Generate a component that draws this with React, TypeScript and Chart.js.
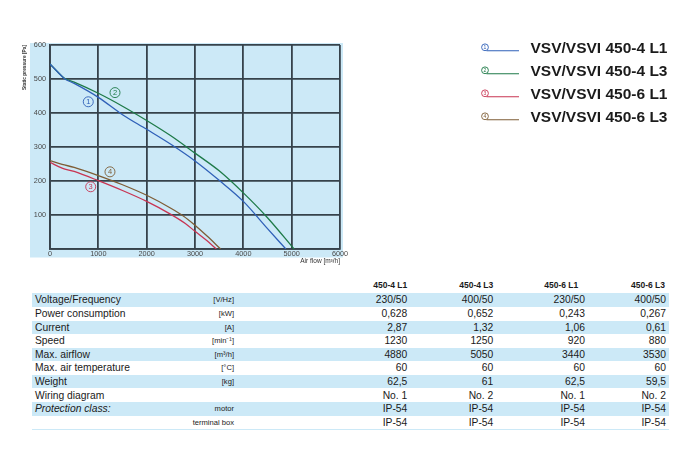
import React, { useEffect, useRef } from 'react';
import { Chart, registerables } from 'chart.js';

Chart.register(...registerables);

// ---------- chart data ----------
const seriesNames = ['VSV/VSVI 450-4 L1', 'VSV/VSVI 450-4 L3', 'VSV/VSVI 450-6 L1', 'VSV/VSVI 450-6 L3'];
const seriesColors = ['#2f60b8', '#1e7a48', '#c83452', '#7e5d36'];

const flow1 = [0, 150, 300, 500, 1000, 1500, 2000, 2500, 3000, 3500, 4000, 4500, 4880];
const pressure1 = [544, 522, 501, 487, 446, 395, 352, 308, 259, 202, 140, 60, 0];

const flow2 = [0, 150, 300, 500, 1000, 1500, 2000, 2500, 3000, 3500, 4000, 4500, 5050];
const pressure2 = [544, 522, 502, 491, 458, 420, 378, 333, 282, 230, 165, 92, 0];

const flow3 = [0, 250, 500, 1000, 1500, 2000, 2500, 2800, 3000, 3250, 3440];
const pressure3 = [255, 238, 228, 201, 172, 140, 102, 75, 52, 24, 0];

const flow4 = [0, 250, 500, 1000, 1500, 2000, 2500, 2750, 3000, 3250, 3530];
const pressure4 = [260, 249, 240, 216, 189, 158, 120, 98, 70, 38, 0];

const markerNumbers = ['1', '2', '3', '4'];
const markerFlow = [792, 1345, 842, 1241];
const markerPressure = [433, 460, 183, 227];

const flowMax = 6000;
const flowStep = 1000;
const pressureMax = 600;
const pressureStep = 100;
const xTitle = 'Air flow [m³/h]';
const yTitle = 'Static pressure [Pa]';

// ---------- table data ----------
const tableModels = ['450-4 L1', '450-4 L3', '450-6 L1', '450-6 L3'];
const rowLabels = [
  'Voltage/Frequency',
  'Power consumption',
  'Current',
  'Speed',
  'Max. airflow',
  'Max. air temperature',
  'Weight',
  'Wiring diagram',
  'Protection class:',
  '',
];
const rowUnits = ['[V/Hz]', '[kW]', '[A]', '[min⁻¹]', '[m³/h]', '[°C]', '[kg]', '', 'motor', 'terminal box'];
const col1 = ['230/50', '0,628', '2,87', '1230', '4880', '60', '62,5', 'No. 1', 'IP-54', 'IP-54'];
const col2 = ['400/50', '0,652', '1,32', '1250', '5050', '60', '61', 'No. 2', 'IP-54', 'IP-54'];
const col3 = ['230/50', '0,243', '1,06', '920', '3440', '60', '62,5', 'No. 1', 'IP-54', 'IP-54'];
const col4 = ['400/50', '0,267', '0,61', '880', '3530', '60', '59,5', 'No. 2', 'IP-54', 'IP-54'];

const FONT = '"Liberation Sans", Arial, Helvetica, sans-serif';
const GRID = '#36424b';
const BG = '#cce9f7';

const toPoints = (xs: number[], ys: number[]) => xs.map((x, i) => ({ x, y: ys[i] }));

const bgPlugin = {
  id: 'plotBg',
  beforeDraw(chart: any) {
    const { ctx, chartArea } = chart;
    const { left, top, right, bottom } = chartArea;
    ctx.save();
    ctx.fillStyle = BG;
    ctx.fillRect(left - 20, top - 2, right - left + 23, bottom - top + 10.5);
    ctx.restore();
  },
};

const markerPlugin = {
  id: 'curveMarkers',
  afterDatasetsDraw(chart: any) {
    const { ctx, scales } = chart;
    markerNumbers.forEach((n, i) => {
      const px = scales.x.getPixelForValue(markerFlow[i]);
      const py = scales.y.getPixelForValue(markerPressure[i]);
      const color = chart.data.datasets[i].borderColor;
      ctx.save();
      ctx.strokeStyle = color;
      ctx.lineWidth = 0.9;
      ctx.beginPath();
      ctx.arc(px, py, 5, 0, Math.PI * 2);
      ctx.stroke();
      ctx.fillStyle = color;
      ctx.font = `7.5px ${FONT}`;
      ctx.textAlign = 'center';
      ctx.textBaseline = 'middle';
      ctx.fillText(n, px, py + 0.4);
      ctx.restore();
    });
  },
};

const legendPlugin = {
  id: 'sideLegend',
  afterDraw(chart: any) {
    const { ctx } = chart;
    chart.data.datasets.forEach((ds: any, i: number) => {
      const y = 48.3 + i * 23;
      ctx.save();
      ctx.strokeStyle = ds.borderColor;
      ctx.lineWidth = 0.9;
      ctx.beginPath();
      ctx.arc(485, y - 1, 3.4, 0, Math.PI * 2);
      ctx.stroke();
      ctx.fillStyle = ds.borderColor;
      ctx.font = `5px ${FONT}`;
      ctx.textAlign = 'center';
      ctx.textBaseline = 'middle';
      ctx.fillText(markerNumbers[i], 485, y - 0.8);
      ctx.lineWidth = 1.1;
      ctx.beginPath();
      ctx.moveTo(486.5, y + 2.5);
      ctx.lineTo(519, y + 2.5);
      ctx.stroke();
      ctx.fillStyle = '#1b1b1b';
      ctx.font = `bold 15.5px ${FONT}`;
      ctx.textAlign = 'left';
      ctx.textBaseline = 'middle';
      ctx.fillText(ds.label, 530.5, y + 0.6);
      ctx.restore();
    });
  },
};

function PerformanceChart() {
  const ref = useRef<HTMLCanvasElement | null>(null);
  useEffect(() => {
    if (!ref.current) return;
    const flows = [flow1, flow2, flow3, flow4];
    const pressures = [pressure1, pressure2, pressure3, pressure4];
    const chart = new Chart(ref.current, {
      type: 'line',
      data: {
        datasets: seriesNames.map((name, i) => ({
          label: name,
          data: toPoints(flows[i], pressures[i]),
          borderColor: seriesColors[i],
          backgroundColor: seriesColors[i],
          borderWidth: 1.3,
          pointRadius: 0,
          fill: false,
          cubicInterpolationMode: 'monotone' as const,
        })),
      },
      options: {
        responsive: false,
        animation: false,
        events: [],
        layout: { padding: { left: 0, top: 45, right: 360, bottom: 0 } },
        plugins: { legend: { display: false }, tooltip: { enabled: false } },
        scales: {
          x: {
            type: 'linear',
            min: 0,
            max: flowMax,
            afterFit: (s: any) => {
              s.height = 26;
            },
            ticks: {
              stepSize: flowStep,
              autoSkip: false,
              maxRotation: 0,
              padding: 1,
              color: '#4a4a4a',
              font: { family: FONT, size: 7.3 },
              callback: (v: any) => String(v),
            },
            grid: { color: GRID, lineWidth: 1.8, drawTicks: false },
            border: { display: true, color: GRID, width: 1.8 },
            title: {
              display: true,
              text: xTitle,
              align: 'end',
              color: '#333',
              font: { family: FONT, size: 6.5 },
              padding: { top: 0, bottom: 9.8 },
            },
          },
          y: {
            type: 'linear',
            min: 0,
            max: pressureMax,
            afterFit: (s: any) => {
              s.width = 50;
            },
            ticks: {
              stepSize: pressureStep,
              padding: 4,
              color: '#4a4a4a',
              font: { family: FONT, size: 7.3 },
              callback: (v: any) => (v === 0 ? '' : String(v)),
            },
            grid: { color: GRID, lineWidth: 1.8, drawTicks: false },
            border: { display: true, color: GRID, width: 1.8 },
            title: {
              display: true,
              text: yTitle,
              align: 'end',
              color: '#333',
              font: { family: FONT, size: 4.8, weight: 'bold' },
              padding: { top: 22, bottom: 0 },
            },
          },
        },
      },
      plugins: [bgPlugin, markerPlugin, legendPlugin],
    } as any);
    return () => chart.destroy();
  }, []);
  return (
    <canvas
      ref={ref}
      width={700}
      height={275}
      style={{ position: 'absolute', left: 0, top: 0, width: 700, height: 275 }}
    />
  );
}

const ROW_TOP = 293.3;
const ROW_H = 13.6;
const TBL_L = 32;
const TBL_R = 669;
const valueRight = [407.3, 493.3, 585, 666];
const headerRight = [407.3, 493.3, 578.3, 665];
const unitRight = 234;

function SpecTable() {
  const cols = [col1, col2, col3, col4];
  const cell = (right: number, top: number, h: number, text: string, extra: React.CSSProperties = {}) => (
    <div
      style={{
        position: 'absolute',
        left: 0,
        width: right,
        top,
        height: h,
        lineHeight: `${h}px`,
        textAlign: 'right',
        whiteSpace: 'nowrap',
        ...extra,
      }}
    >
      {text}
    </div>
  );
  return (
    <>
      {tableModels.map((m, j) => (
        <React.Fragment key={'h' + j}>
          {cell(headerRight[j], 279, 12, m, { fontWeight: 'bold', fontSize: 8.5 })}
        </React.Fragment>
      ))}
      {rowLabels.map((label, i) => {
        const top = ROW_TOP + i * ROW_H;
        return (
          <React.Fragment key={'r' + i}>
            {i % 2 === 0 && (
              <div
                style={{
                  position: 'absolute',
                  left: TBL_L,
                  width: TBL_R - TBL_L,
                  top,
                  height: ROW_H,
                  background: BG,
                }}
              />
            )}
            <div
              style={{
                position: 'absolute',
                left: 35,
                top,
                height: ROW_H,
                lineHeight: `${ROW_H}px`,
                fontSize: 10.3,
                whiteSpace: 'nowrap',
                fontStyle: i === 8 ? 'italic' : 'normal',
              }}
            >
              {label}
            </div>
            {cell(unitRight, top, ROW_H, rowUnits[i], { fontSize: 7.6 })}
            {cols.map((c, j) => (
              <React.Fragment key={'c' + j}>{cell(valueRight[j], top, ROW_H, c[i], { fontSize: 10.3 })}</React.Fragment>
            ))}
          </React.Fragment>
        );
      })}
      <div
        style={{
          position: 'absolute',
          left: TBL_L,
          width: TBL_R - TBL_L,
          top: ROW_TOP + rowLabels.length * ROW_H,
          height: 1,
          background: BG,
        }}
      />
    </>
  );
}

export default function App() {
  return (
    <div
      style={{
        position: 'absolute',
        left: 0,
        top: 0,
        width: 700,
        height: 450,
        background: '#ffffff',
        fontFamily: FONT,
        color: '#1a1a1a',
        overflow: 'hidden',
      }}
    >
      <PerformanceChart />
      <SpecTable />
    </div>
  );
}
